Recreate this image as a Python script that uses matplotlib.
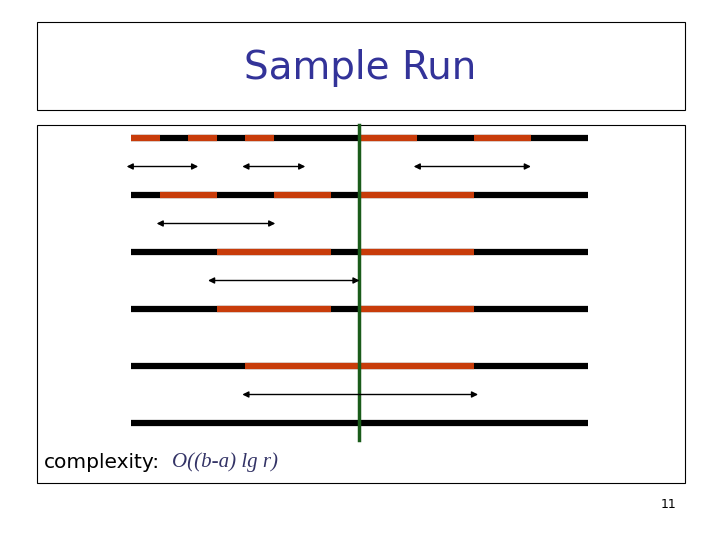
import matplotlib
matplotlib.use("Agg")
import matplotlib.pyplot as plt
from matplotlib.patches import Rectangle

# diagram data (units along the line, 0..16)
n_units = 16
rows_red = [
    [(0, 1), (2, 3), (4, 5), (8, 10), (12, 14)],
    [(1, 3), (5, 7), (8, 12)],
    [(3, 7), (8, 12)],
    [(3, 7), (8, 12)],
    [(4, 12)],
    [],
]
arrows = [  # (row position, start, end)
    (0.5, -0.25, 2.45), (0.5, 3.8, 6.2), (0.5, 9.8, 14.1),
    (1.5, 0.8, 5.15),
    (2.5, 2.6, 8.1),
    (4.5, 3.8, 12.25),
]
split_unit = 8

X0, UNIT = 131, 28.56
Y0, ROWSTEP = 138, 57

fig = plt.figure(figsize=(7.2, 5.4), dpi=100)
ax = fig.add_axes([0, 0, 1, 1])
ax.set_xlim(0, 720); ax.set_ylim(540, 0); ax.axis("off")

ax.add_patch(Rectangle((37, 22), 648, 88, fill=False, ec="black", lw=0.8))
ax.add_patch(Rectangle((37, 125), 648, 358, fill=False, ec="black", lw=0.8))
ax.text(360, 68, "Sample Run", ha="center", va="center", fontsize=28, color="#333399")

ux = lambda u: X0 + u * UNIT
for i, reds in enumerate(rows_red):
    y = Y0 + i * ROWSTEP
    ax.plot([ux(0), ux(n_units)], [y, y], color="black", lw=4.5, solid_capstyle="butt")
    for a, b in reds:
        ax.plot([ux(a), ux(b)], [y, y], color="#c83c0a", lw=4.5, solid_capstyle="butt")
for r, a, b in arrows:
    y = Y0 + r * ROWSTEP
    ax.annotate("", xy=(ux(b), y), xytext=(ux(a), y),
                arrowprops=dict(arrowstyle="<|-|>", color="black", lw=1, mutation_scale=9))
ax.plot([ux(split_unit), ux(split_unit)], [125, 440], color="#1a5c1a", lw=2.5)

ax.text(44, 462, "complexity:", ha="left", va="center", fontsize=14.5, color="black")
ax.text(172, 462, "O((b-a) lg r)", ha="left", va="center", fontsize=15, color="#333366",
        family="Liberation Serif", style="italic")
ax.text(676, 504, "11", ha="right", va="center", fontsize=9)
fig.savefig("out.png", dpi=100)
